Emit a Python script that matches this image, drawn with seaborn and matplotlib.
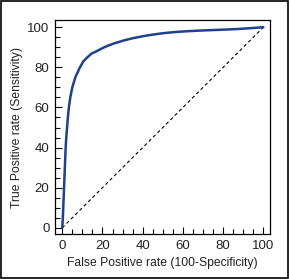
import numpy as np
import pandas as pd
import matplotlib
matplotlib.use("Agg")
import matplotlib.pyplot as plt
import seaborn as sns
from matplotlib.ticker import MultipleLocator
from matplotlib.patches import Rectangle

# =========================
# DATA
# =========================
fpr = [0, 0.3, 0.5, 0.7, 0.9, 1.1, 1.3, 1.5, 1.7, 2.0, 2.4, 2.8, 3.3, 4.0, 5.0,
       6.5, 8.8, 10.5, 12.5, 14.5, 17, 19.5, 22, 26, 31, 35, 40, 45, 50, 56,
       62, 70, 78, 85, 92, 100]
tpr = [0, 5, 10, 15, 20, 25, 30, 35, 40, 45, 50, 55, 60, 65, 70,
       75, 80, 83, 85, 86.8, 88, 89.3, 90.5, 92, 93.5, 94.5, 95.5, 96.3, 97, 97.6,
       98, 98.4, 98.7, 99, 99.4, 100]
diag = [0, 100]

df = pd.DataFrame({"fpr": fpr, "tpr": tpr})

# =========================
# STYLE
# =========================
sns.set_style("white")
plt.rcParams["font.family"] = ["Liberation Sans", "DejaVu Sans"]
plt.rcParams["font.size"] = 8

fig = plt.figure(figsize=(2.89, 2.79), dpi=100)
ax = fig.add_axes([55 / 289, 45 / 279, 215 / 289, 214 / 279])

# =========================
# PLOT
# =========================
ax.plot(diag, diag, color="black", linestyle=(0, (3, 2.5)), linewidth=0.8)
sns.lineplot(data=df, x="fpr", y="tpr", ax=ax, color="#1f3f8f", linewidth=1.8)

ax.set_xlim(-3.6, 103.3)
ax.set_ylim(-3.1, 103.6)
ax.xaxis.set_major_locator(MultipleLocator(20))
ax.yaxis.set_major_locator(MultipleLocator(20))
ax.xaxis.set_minor_locator(MultipleLocator(5))
ax.yaxis.set_minor_locator(MultipleLocator(5))
ax.tick_params(which="both", direction="in", color="black", width=0.8,
               labelsize=9.5, labelcolor="#222222", pad=4)
ax.tick_params(which="major", length=5)
ax.tick_params(which="minor", length=3.5)
ax.tick_params(bottom=True, left=True, top=False, right=False, which="both")

for s in ax.spines.values():
    s.set_color("black")
    s.set_linewidth(0.9)

ax.set_xlabel("False Positive rate (100-Specificity)", fontsize=8.7, color="#222222", labelpad=4)
ax.set_ylabel("True Positive rate (Sensitivity)", fontsize=8.7, color="#222222", labelpad=3)

# outer border
fig.patches.append(Rectangle((0.002, 0.002), 0.996, 0.996, transform=fig.transFigure,
                             fill=False, edgecolor="black", linewidth=1.2))

plt.savefig("out.png", dpi=100)
plt.close()
